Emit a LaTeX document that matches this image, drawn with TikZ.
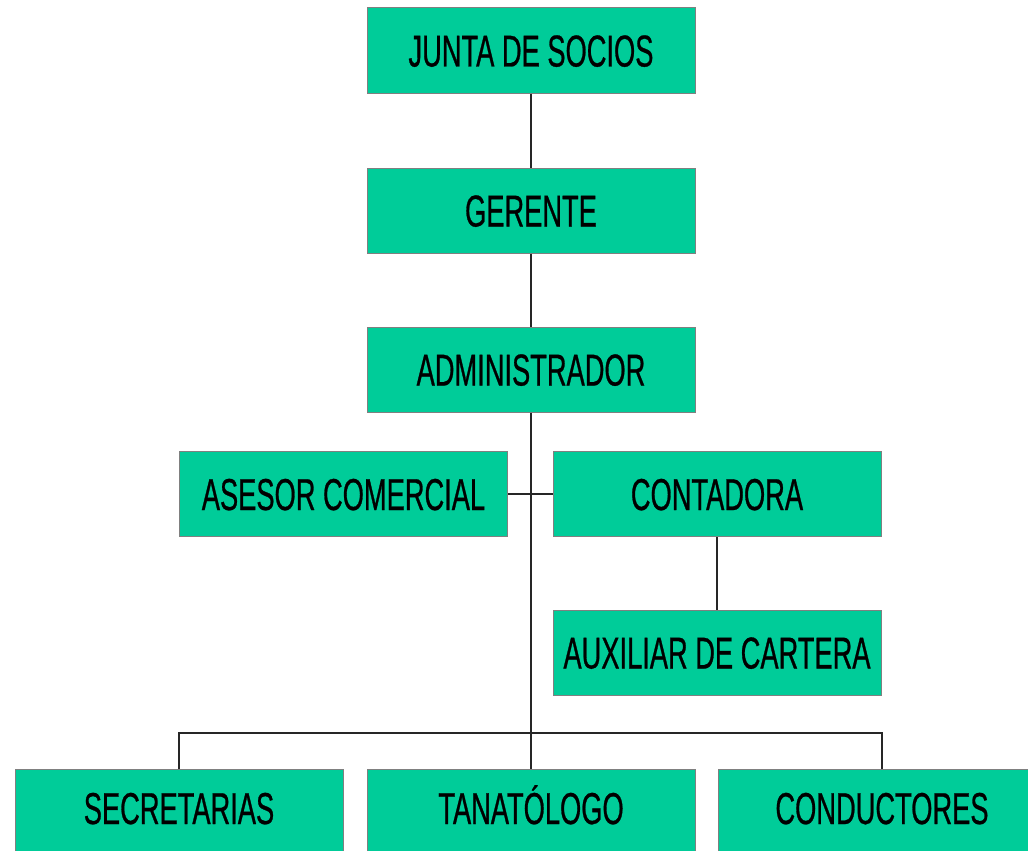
\documentclass[tikz,border=0pt]{standalone}
\usepackage{fontspec}
\setmainfont{Liberation Sans}[FakeStretch=0.61, FakeBold=0.6]
\usepackage{tikz}
\definecolor{boxgreen}{HTML}{00CC99}
\tikzset{orgbox/.style={rectangle, draw=gray, fill=boxgreen, line width=1pt, minimum width=328pt, minimum height=85pt, inner sep=0pt, text height=32pt, text depth=0pt, font=\fontsize{44.7}{50}\selectfont},
  bottomrow/.style={text depth=8pt}}

\begin{document}
\begin{tikzpicture}[x=1pt, y=-1pt]
\useasboundingbox (0,0) rectangle (1028,851);
\clip (0,0) rectangle (1028,851);

\begin{scope}[every node/.style={orgbox}]
\node (junta) at (531,50.5) {JUNTA DE SOCIOS};
\node (gerente) at (531,210.5) {GERENTE};
\node (admin) at (531,369.5) {ADMINISTRADOR};
\node (asesor) at (343.5,494) {ASESOR COMERCIAL};
\node (conta) at (717,494) {CONTADORA};
\node (aux) at (717,652.5) {AUXILIAR DE CARTERA};
\node[bottomrow] (secre) at (179,812) {SECRETARIAS};
\node[bottomrow] (tanato) at (531,812) {TANATÓLOGO};
\node[bottomrow] (conduc) at (882,812) {CONDUCTORES};
\end{scope}

\coordinate (bus) at (531,733);
\begin{scope}[line width=1.2pt, black!85]
\draw (junta)--(gerente)--(admin);
\draw (admin)--(tanato);
\draw (asesor)--(conta);
\draw (conta)--(aux);
\draw (secre.north) |- (bus) -| (conduc.north);
\end{scope}

\end{tikzpicture}
\end{document}
